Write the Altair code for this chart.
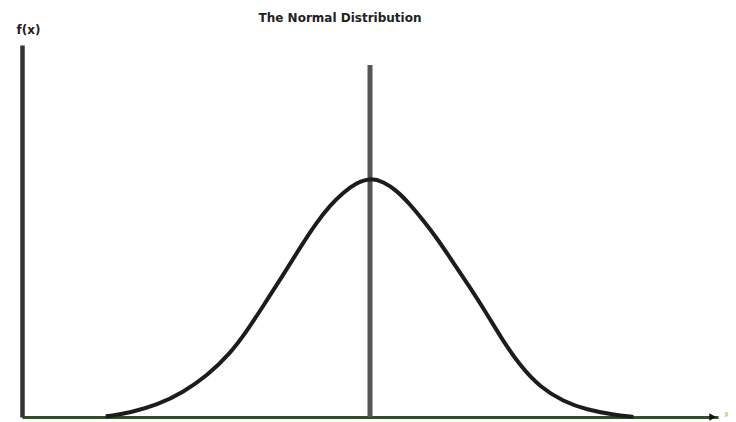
import altair as alt
import pandas as pd

# Curve points (x in standard units, f(x) density)
curve_x = [-2.97, -2.92, -2.70, -2.39, -2.10, -1.83, -1.57, -1.38, -1.18, -0.98,
           -0.79, -0.60, -0.45, -0.30, -0.15, 0.00, 0.15, 0.30, 0.45, 0.60, 0.75,
           0.93, 1.12, 1.31, 1.49, 1.69, 1.91, 2.17, 2.44, 2.73, 2.96]
curve_f = [0.001, 0.002, 0.007, 0.020, 0.041, 0.069, 0.106, 0.144, 0.190, 0.236,
           0.282, 0.325, 0.353, 0.375, 0.391, 0.399, 0.393, 0.378, 0.355, 0.328, 0.299,
           0.259, 0.217, 0.173, 0.128, 0.085, 0.050, 0.026, 0.012, 0.004, 0.000]

mean_x = [0.0]
mean_top = [0.5875]
arrow_x = [3.85]
arrow_y = [0.0]
x_label = ["x"]

X_DOMAIN = [-3.91, 3.91]
Y_DOMAIN = [0, 0.621]

df = pd.DataFrame({"x": curve_x, "f": curve_f})
mean_df = pd.DataFrame({"x": mean_x, "y0": [0.0], "y1": mean_top})
arrow_df = pd.DataFrame({"x": arrow_x, "y": arrow_y, "label": x_label})

xs = alt.Scale(domain=X_DOMAIN, nice=False, zero=False)
ys = alt.Scale(domain=Y_DOMAIN, nice=False)

base_x_axis = alt.Axis(title=None, labels=False, ticks=False, grid=False,
                       domainColor="#2f4f25", domainWidth=3)
base_y_axis = alt.Axis(title="f(x)", labels=False, ticks=False, grid=False,
                       domainColor="#333333", domainWidth=4.5,
                       titleAngle=0, titleX=6, titleY=-12, titleAlign="center",
                       titleBaseline="alphabetic", titleFont="DejaVu Sans",
                       titleFontSize=12, titleFontWeight="bold", titleColor="#222222")

curve = alt.Chart(df).mark_line(color="#1c1c1c", strokeWidth=4, interpolate="basis").encode(
    x=alt.X("x:Q", scale=xs, axis=base_x_axis),
    y=alt.Y("f:Q", scale=ys, axis=base_y_axis),
)

mean_rule = alt.Chart(mean_df).mark_rule(color="#555555", strokeWidth=5).encode(
    x=alt.X("x:Q", scale=xs),
    y=alt.Y("y0:Q", scale=ys),
    y2="y1:Q",
)

arrow = alt.Chart(arrow_df).mark_point(shape="triangle-right", filled=True, color="#111111",
                                       size=60, opacity=1).encode(
    x=alt.X("x:Q", scale=xs),
    y=alt.Y("y:Q", scale=ys),
)

xlab = alt.Chart(arrow_df).mark_text(color="#b8b860", fontSize=9, dx=14, dy=-3,
                                     font="DejaVu Sans").encode(
    x=alt.X("x:Q", scale=xs),
    y=alt.Y("y:Q", scale=ys),
    text="label:N",
)

chart = alt.layer(mean_rule, curve, arrow, xlab).properties(
    width=696,
    height=372,
    title=alt.TitleParams(text="The Normal Distribution", font="DejaVu Sans", fontSize=12,
                          fontWeight="bold", color="#222222", anchor="middle", dx=-30,
                          offset=-2),
    autosize=alt.AutoSizeParams(type="none"),
    padding={"left": 14, "top": 37, "right": 10, "bottom": 5},
).configure_view(stroke=None)

chart.save("out.html", embed_options={"renderer": "svg", "actions": False})
